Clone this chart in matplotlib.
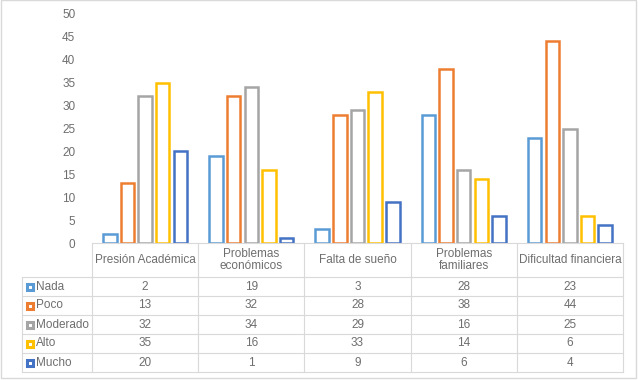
import matplotlib
matplotlib.use("Agg")
from matplotlib import pyplot as plt
from matplotlib.lines import Line2D
from matplotlib.patches import Rectangle
import numpy as np

categories = ["Presión Académica", "Problemas\neconómicos", "Falta de sueño",
              "Problemas\nfamiliares", "Dificultad financiera"]
series = ["Nada", "Poco", "Moderado", "Alto", "Mucho"]
nada = [2, 19, 3, 28, 23]
poco = [13, 32, 28, 38, 44]
moderado = [32, 34, 29, 16, 25]
alto = [35, 16, 33, 14, 6]
mucho = [20, 1, 9, 6, 4]
values = [nada, poco, moderado, alto, mucho]
colors = ["#5B9BD5", "#ED7D31", "#A5A5A5", "#FFC000", "#4472C4"]

W, H = 638, 380
txt_color = "#6E6E6E"
grid_color = "#D9D9D9"
font = "Liberation Sans"
plt.rcParams['font.family'] = [font, 'DejaVu Sans']


def fx(px):
    return px / W


def fy(py):
    return 1 - py / H


fig = plt.figure(figsize=(W / 100, H / 100), dpi=100)
fig.patch.set_facecolor("white")

# plot area in pixels
left, right, top, bottom = 92, 623, 14, 243
ax = fig.add_axes([fx(left), fy(bottom), fx(right - left), fy(top) - fy(bottom)])
ax.set_facecolor("none")

index = np.arange(len(categories))
pitch = 0.166
bar_width = 0.127
for i, (name, vals, col) in enumerate(zip(series, values, colors)):
    ax.bar(index + (i - 2) * pitch, vals, bar_width, facecolor="white",
           edgecolor=col, linewidth=1.8, label=name)

ax.set_xlim(-0.5, len(categories) - 0.5)
ax.set_ylim(0, 50)
ax.set_yticks(np.arange(0, 51, 5))
ax.set_xticks([])
for s in ax.spines.values():
    s.set_visible(False)
ax.tick_params(axis="y", length=0, pad=12, labelsize=8.5, labelcolor=txt_color)

# data table
col_edges = np.linspace(left, right, len(categories) + 1)
row_top = bottom
header_bottom = 277
row_h = 19
label_left = 22
row_edges = [header_bottom + k * row_h for k in range(len(series) + 1)]
table_bottom = row_edges[-1]

lw = 0.8
# vertical lines of value columns
for x in col_edges:
    fig.add_artist(Line2D([fx(x), fx(x)], [fy(row_top), fy(table_bottom)],
                          color=grid_color, lw=lw))
# left edge of row labels
fig.add_artist(Line2D([fx(label_left), fx(label_left)], [fy(header_bottom), fy(table_bottom)],
                      color=grid_color, lw=lw))
# horizontal lines
fig.add_artist(Line2D([fx(left), fx(right)], [fy(row_top), fy(row_top)],
                      color=grid_color, lw=lw))
for y in row_edges:
    fig.add_artist(Line2D([fx(label_left), fx(right)], [fy(y), fy(y)],
                          color=grid_color, lw=lw))

# header text
for j, cat in enumerate(categories):
    cx = (col_edges[j] + col_edges[j + 1]) / 2
    cy = (row_top + header_bottom) / 2
    fig.text(fx(cx), fy(cy), cat, ha="center", va="center", fontsize=8.5,
             color=txt_color, linespacing=1.1)

# rows
for i, (name, vals, col) in enumerate(zip(series, values, colors)):
    cy = (row_edges[i] + row_edges[i + 1]) / 2
    fig.add_artist(Rectangle((fx(27), fy(cy + 3)), fx(6), fy(cy - 3) - fy(cy + 3),
                             facecolor="white", edgecolor=col, lw=2.2))
    fig.text(fx(36), fy(cy), name, ha="left", va="center", fontsize=8.5, color=txt_color)
    for j, v in enumerate(vals):
        cx = (col_edges[j] + col_edges[j + 1]) / 2
        fig.text(fx(cx), fy(cy), str(v), ha="center", va="center", fontsize=8.5,
                 color=txt_color)

# outer chart border
fig.add_artist(Rectangle((fx(0.5), fy(H - 2.5)), fx(W - 3), fy(0.5) - fy(H - 2.5),
                         facecolor="none", edgecolor=grid_color, lw=1.0))

plt.savefig("out.png", dpi=100)
plt.close()
